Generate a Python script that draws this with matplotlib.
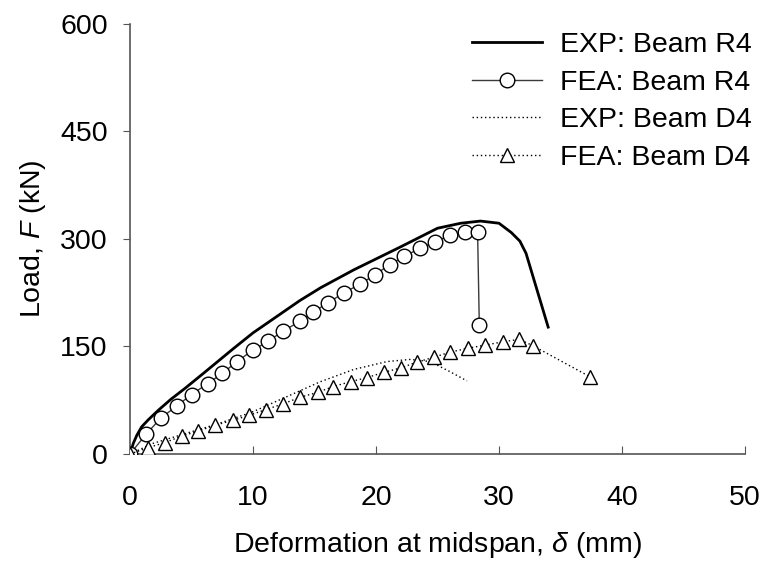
import matplotlib
matplotlib.use('Agg')
import matplotlib.pyplot as plt

plt.rcParams['font.family'] = ['Liberation Sans', 'DejaVu Sans']
plt.rcParams['mathtext.fontset'] = 'custom'
plt.rcParams['mathtext.rm'] = 'Liberation Sans'
plt.rcParams['mathtext.it'] = 'Liberation Sans:italic'

FS = 20.5

# EXP: Beam R4
exp_r4_x = [0, 0.27, 0.55, 0.95, 1.5, 2.3, 3.3, 4.5, 6.0, 8.4, 10.0, 11.1, 13.8, 15.5, 18.2,
            22.0, 25.0, 26.9, 28.5, 30.0, 31.0, 31.7, 32.2, 34.0]
exp_r4_y = [0, 15, 26, 38, 48, 61, 76, 92, 113, 147, 169, 182, 214, 232, 257,
            289, 315, 322, 325, 322, 309, 297, 280, 177]

# FEA: Beam R4
fea_r4_x = [0, 1.3, 2.5, 3.8, 5.0, 6.3, 7.5, 8.7, 10.0, 11.2, 12.4, 13.8, 14.9, 16.1, 17.4,
            18.7, 19.9, 21.1, 22.3, 23.6, 24.8, 26.0, 27.25, 28.26, 28.4]
fea_r4_y = [0, 27.5, 50, 67, 83, 98, 112.5, 129, 145, 157, 171, 185, 198, 211, 225,
            237, 250, 264, 276, 287, 296, 305, 310, 310, 180]

# EXP: Beam D4
exp_d4_x = [0, 1.9, 4.6, 7.3, 10.0, 12.75, 15.5, 18.2, 20.9, 22.8, 24.4, 26.0, 27.4]
exp_d4_y = [0, 15, 29, 43, 59, 80, 101, 118, 129, 132, 129, 115, 102]

# FEA: Beam D4
fea_d4_x = [0, 1.5, 2.85, 4.2, 5.55, 6.9, 8.35, 9.7, 11.05, 12.45, 13.8, 15.25, 16.5, 17.95,
            19.25, 20.65, 22.0, 23.3, 24.7, 26.0, 27.45, 28.9, 30.3, 31.65, 32.77, 37.37]
fea_d4_y = [0, 9, 16, 25, 32, 40, 47, 54, 62, 70, 79, 86, 94, 101,
            106.5, 114, 120, 128, 135, 142, 147.5, 152, 156.5, 160, 151, 108]

fig = plt.figure(figsize=(7.68, 5.67), dpi=100)
ax = fig.add_axes([0.1693, 0.1993, 0.8007, 0.7584])

ax.plot(exp_r4_x, exp_r4_y, color='black', lw=2.0, label='EXP: Beam R4', zorder=3)
ax.plot(fea_r4_x, fea_r4_y, color='#3a3a3a', lw=1.0, marker='o', ms=10.5, mfc='white',
        mec='black', mew=1.0, label='FEA: Beam R4', zorder=4)
ax.plot(exp_d4_x, exp_d4_y, color='black', lw=1.0, ls=(0, (1, 2)), label='EXP: Beam D4', zorder=3)
ax.plot(fea_d4_x, fea_d4_y, color='black', lw=1.0, ls=(0, (1, 2)), marker='^', ms=10, mfc='white',
        mec='black', mew=1.0, label='FEA: Beam D4', zorder=4)

ax.set_xlim(0, 50)
ax.set_ylim(0, 600)
ax.set_xticks([0, 10, 20, 30, 40, 50])
ax.set_yticks([0, 150, 300, 450, 600])
for s in ['top', 'right']:
    ax.spines[s].set_visible(False)
for s in ['left', 'bottom']:
    ax.spines[s].set_color('#555555')
    ax.spines[s].set_linewidth(1.2)
ax.tick_params(axis='x', direction='in', length=6, color='#555555', labelsize=FS, pad=22)
ax.tick_params(axis='y', direction='out', length=5, color='#555555', labelsize=FS, pad=11)

ax.set_xlabel('Deformation at midspan, $\\mathit{\\delta}$ (mm)', fontsize=FS, labelpad=14)
ax.set_ylabel('Load, $\\mathit{F}$ (kN)', fontsize=FS, labelpad=9)

ax.legend(loc='upper left', bbox_to_anchor=(0.6, 0.963), bbox_transform=fig.transFigure,
          frameon=False, fontsize=FS, handlelength=2.46, handletextpad=0.63,
          labelspacing=0.4, numpoints=1, borderaxespad=0)

fig.savefig('out.png', dpi=100)
